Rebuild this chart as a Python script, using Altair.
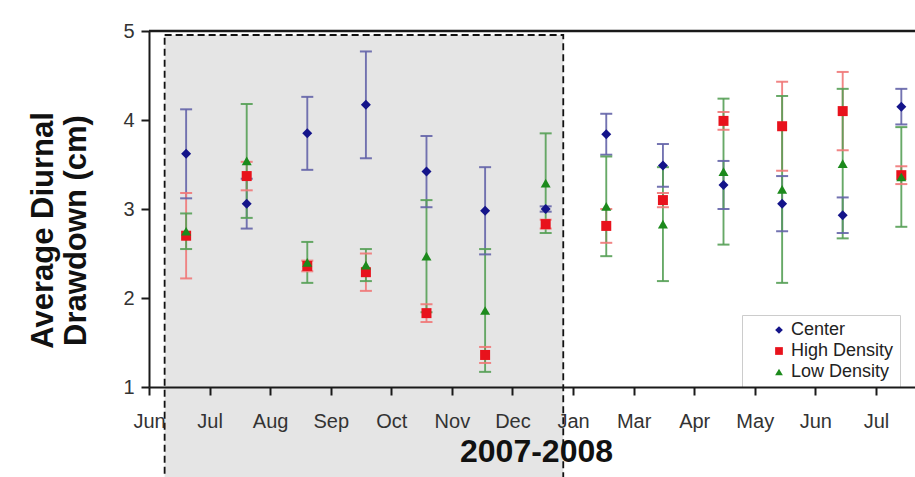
import altair as alt
import pandas as pd

# ---------------- data ----------------
sample_dates = ["2007-07-17", "2007-08-17", "2007-09-17", "2007-10-17", "2007-11-17",
                "2007-12-17", "2008-01-17", "2008-02-17", "2008-03-17", "2008-04-17",
                "2008-05-17", "2008-06-17", "2008-07-17"]
series_names = ["Center", "High Density", "Low Density"]

center_mean = [3.62, 3.06, 3.85, 4.17, 3.42, 2.98, 3.00, 3.84, 3.49, 3.27, 3.06, 2.93, 4.15]
center_err = [0.50, 0.28, 0.41, 0.60, 0.40, 0.49, 0.03, 0.23, 0.24, 0.27, 0.31, 0.20, 0.20]

high_mean = [2.70, 3.37, 2.36, 2.29, 1.83, 1.36, 2.83, 2.81, 3.10, 3.99, 3.93, 4.10, 3.38]
high_err = [0.48, 0.16, 0.06, 0.21, 0.10, 0.09, 0.05, 0.19, 0.08, 0.10, 0.50, 0.44, 0.10]

low_mean = [2.75, 3.54, 2.40, 2.37, 2.47, 1.86, 3.29, 3.03, 2.83, 3.42, 3.22, 3.51, 3.36]
low_err = [0.20, 0.64, 0.23, 0.18, 0.63, 0.69, 0.56, 0.56, 0.64, 0.82, 1.05, 0.84, 0.56]

tick_dates = ["2007-06-28", "2007-07-29", "2007-08-29", "2007-09-29", "2007-10-30",
              "2007-11-30", "2007-12-31", "2008-01-31", "2008-03-02", "2008-04-02",
              "2008-05-03", "2008-06-03", "2008-07-04"]
tick_labels = ["Jun", "Jul", "Aug", "Sep", "Oct", "Nov", "Dec", "Jan", "Mar", "Apr",
               "May", "Jun", "Jul"]
y_ticks = [1, 2, 3, 4, 5]
x_domain = ["2007-06-28", "2008-07-24"]
y_domain = [1, 5]
shade_span = ["2007-07-06", "2008-01-26"]
shade_top = 4.955
shade_bottom = -0.2
y_title = ["Average Diurnal", "Drawdown (cm)"]
x_title = "2007-2008"

marker_colors = ["#14148a", "#e8121c", "#1c8a1c"]
error_colors = ["#6464a8", "#ef7878", "#57a057"]
marker_shapes = ["diamond", "square", "triangle-up"]

FONT = "Liberation Sans"


def dt(s):
    y, m, d = (int(p) for p in s.split("-"))
    return alt.DateTime(year=y, month=m, date=d)


def local(s):
    return s.replace("-", "/")


# ---------------- tables ----------------
rows = []
for name, means, errs in zip(series_names,
                             [center_mean, high_mean, low_mean],
                             [center_err, high_err, low_err]):
    for d, m, e in zip(sample_dates, means, errs):
        rows.append({"date": local(d), "series": name, "value": m,
                     "lo": round(m - e, 3), "hi": round(m + e, 3)})
df = pd.DataFrame(rows)

shade_df = pd.DataFrame([{"start": local(shade_span[0]), "end": local(shade_span[1]),
                          "top": shade_top, "bottom": shade_bottom}])
top_df = pd.DataFrame([{"top": y_domain[1]}])

label_map = ",".join(f"'{d}':'{l}'" for d, l in zip(tick_dates, tick_labels))
label_expr = "{" + label_map + "}[timeFormat(datum.value, '%Y-%m-%d')]"

x_scale = alt.Scale(domain=[dt(x_domain[0]), dt(x_domain[1])])
y_scale = alt.Scale(domain=y_domain, nice=False, zero=False)

x_axis = alt.Axis(values=[dt(t) for t in tick_dates], labelExpr=label_expr,
                  title=x_title, labelFlush=False, labelOverlap=False, labelBound=False,
                  labelFontSize=20, labelPadding=16, labelColor="#333333",
                  titleFontSize=32, titleFontWeight="bold", titleColor="#111111",
                  titleX=387, titleY=49, titleBaseline="top", zindex=1)
y_axis = alt.Axis(values=y_ticks, format="d", title=y_title,
                  labelFontSize=20, labelPadding=7, labelColor="#333333",
                  titleFontSize=31, titleFontWeight="bold", titleColor="#111111",
                  titleLineHeight=33, titleAngle=270, titleAlign="center",
                  titleBaseline="top", titleX=-121, titleY=199, zindex=1)

X = alt.X("date:T", scale=x_scale, axis=x_axis)

shade = alt.Chart(shade_df).mark_rect(
    fill="#e5e5e5", stroke="#111111", strokeDash=[7, 4], strokeWidth=1.8, clip=False
).encode(
    x=alt.X("start:T", scale=x_scale, axis=x_axis),
    x2="end:T",
    y=alt.Y("top:Q", scale=y_scale, axis=y_axis),
    y2="bottom:Q",
)

# error-bar colour scale (listed in reverse so it stays apart from the legend scale)
err_scale = alt.Scale(domain=series_names[::-1], range=error_colors[::-1])

bars = alt.Chart(df).mark_rule(strokeWidth=1.9, opacity=0.9).encode(
    x=X,
    y=alt.Y("lo:Q", scale=y_scale, axis=y_axis),
    y2="hi:Q",
    stroke=alt.Stroke("series:N", scale=err_scale, legend=None),
)

caps = alt.Chart(df).transform_fold(["lo", "hi"], as_=["end", "yv"]).mark_tick(
    orient="horizontal", size=12, thickness=2, opacity=0.9
).encode(
    x=X,
    y=alt.Y("yv:Q", scale=y_scale, axis=y_axis),
    fill=alt.Fill("series:N", scale=err_scale, legend=None),
)

legend = alt.Legend(orient="none", legendX=593, legendY=284, title=None,
                    labelFontSize=18, labelFont=FONT, labelColor="#222222",
                    symbolSize=60, symbolStrokeWidth=0, symbolOffset=22, labelOffset=3,
                    padding=6, rowPadding=3, strokeColor="#cccccc", fillColor="white")

points = alt.Chart(df).mark_point(filled=True, size=100, opacity=1, strokeWidth=0).encode(
    x=X,
    y=alt.Y("value:Q", scale=y_scale, axis=y_axis),
    color=alt.Color("series:N", scale=alt.Scale(domain=series_names, range=marker_colors),
                    legend=legend),
    shape=alt.Shape("series:N", scale=alt.Scale(domain=series_names, range=marker_shapes),
                    legend=legend),
)

top_line = alt.Chart(top_df).mark_rule(color="#1a1a1a", strokeWidth=2.5).encode(
    y=alt.Y("top:Q", scale=y_scale, axis=y_axis)
)

chart = alt.layer(shade, bars, caps, points, top_line).properties(
    width=766, height=356,
    autosize=alt.AutoSizeParams(type="none"),
    padding={"left": 149, "top": 31, "right": 0, "bottom": 90},
    background="white",
).configure(font=FONT).configure_view(stroke=None).configure_axis(
    grid=False, domainColor="#1a1a1a", domainWidth=2, tickColor="#1a1a1a",
    tickWidth=2, tickSize=8, labelFont=FONT, titleFont=FONT
)

chart.save("out.html", embed_options={"renderer": "svg", "actions": False})
